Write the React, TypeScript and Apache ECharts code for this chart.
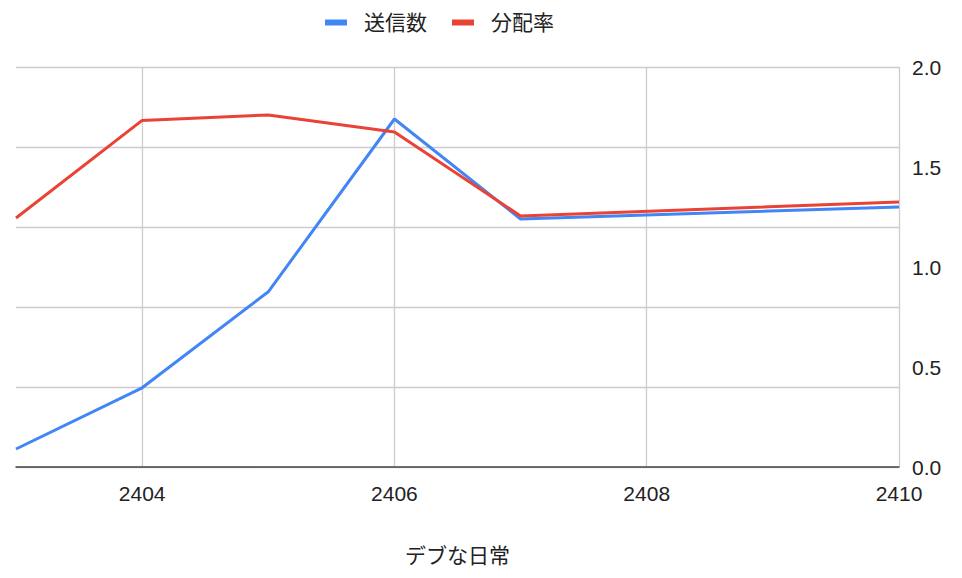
import React, { useEffect, useRef } from "react";
import * as echarts from "echarts";

const categories = ["2403", "2404", "2405", "2406", "2407", "2408", "2409", "2410"];
const sendCount = [0.225, 0.99, 2.19, 4.35, 3.1, null, null, 3.25];
const distributionRate = [1.245, 1.733, 1.76, 1.675, 1.255, null, null, 1.325];
const seriesNames = ["送信数", "分配率"];
const xTitle = "デブな日常";

const FONT = "'Liberation Sans', Arial, 'Noto Sans CJK JP', sans-serif";

export default function App() {
  const ref = useRef<HTMLDivElement>(null);
  useEffect(() => {
    if (!ref.current) return;
    const chart = echarts.init(ref.current, undefined, { renderer: "svg" });
    const everyOther = (i: number) => i % 2 === 1;
    chart.setOption({
      animation: false,
      textStyle: { fontFamily: FONT },
      legend: {
        top: 7,
        left: 320,
        itemWidth: 22,
        itemHeight: 6,
        itemGap: 25,
        icon: "rect",
        textStyle: { fontSize: 21, color: "#222", fontFamily: FONT, padding: [0, 0, 0, 12] },
        data: seriesNames,
      },
      grid: { left: 16, right: 63, top: 67, bottom: 111, containLabel: false },
      xAxis: {
        type: "category",
        data: categories,
        boundaryGap: false,
        name: xTitle,
        nameLocation: "middle",
        nameGap: 78,
        nameTextStyle: { fontSize: 21, color: "#222", fontFamily: FONT },
        axisLine: { lineStyle: { color: "#444", width: 1.5 } },
        axisTick: { show: false },
        axisLabel: { interval: everyOther, fontSize: 21, color: "#222", margin: 16, fontFamily: FONT },
        splitLine: { show: true, interval: everyOther, lineStyle: { color: "#cccccc", width: 1.3 } },
      },
      yAxis: [
        {
          type: "value",
          position: "left",
          min: 0,
          max: 5,
          interval: 1,
          axisLine: { show: false },
          axisTick: { show: false },
          axisLabel: { show: false },
          splitLine: { show: true, lineStyle: { color: "#cccccc", width: 1.3 } },
        },
        {
          type: "value",
          position: "right",
          min: 0,
          max: 2,
          interval: 0.5,
          axisLine: { show: false },
          axisTick: { show: false },
          axisLabel: {
            fontSize: 21,
            color: "#222",
            margin: 13,
            fontFamily: FONT,
            formatter: (v: number) => v.toFixed(1),
          },
          splitLine: { show: false },
        },
      ],
      series: [
        {
          name: seriesNames[0],
          type: "line",
          yAxisIndex: 0,
          data: sendCount,
          connectNulls: true,
          showSymbol: false,
          symbol: "none",
          lineStyle: { color: "#4285F4", width: 3 },
          itemStyle: { color: "#4285F4" },
        },
        {
          name: seriesNames[1],
          type: "line",
          yAxisIndex: 1,
          data: distributionRate,
          connectNulls: true,
          showSymbol: false,
          symbol: "none",
          lineStyle: { color: "#EA4335", width: 3 },
          itemStyle: { color: "#EA4335" },
        },
      ],
    });
    return () => chart.dispose();
  }, []);
  return (
    <div
      ref={ref}
      style={{ position: "fixed", left: 0, top: 0, width: 962, height: 578, background: "#fff" }}
    />
  );
}
